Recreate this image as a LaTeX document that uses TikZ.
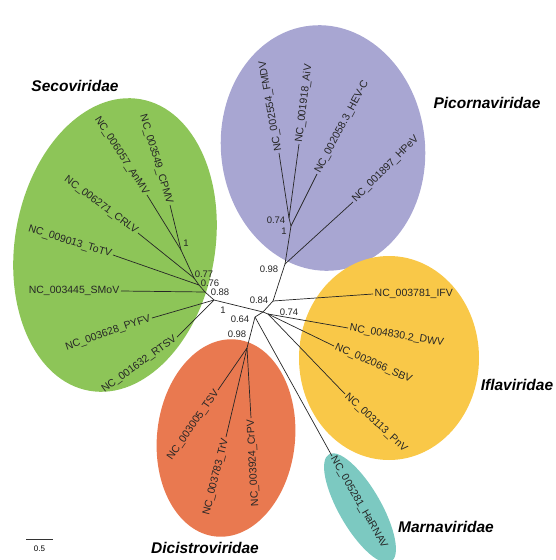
\documentclass[tikz,border=0pt]{standalone}
\usepackage{fontspec}
\setmainfont{Liberation Sans}
\definecolor{picorna}{RGB}{168,166,210}
\definecolor{seco}{RGB}{141,197,88}
\definecolor{ifla}{RGB}{249,200,72}
\definecolor{dicis}{RGB}{233,121,80}
\definecolor{marna}{RGB}{124,201,193}

\begin{document}
\begin{tikzpicture}[x=1pt,y=-1pt,
    branch/.style={line width=0.7pt,black!85},
    tiplabel/.style={font=\fontsize{10.5}{12}\selectfont,text=black!85,inner sep=1.5pt},
    support/.style={font=\fontsize{9.5}{11}\selectfont,text=black!85,inner sep=0pt},
    family/.style={font=\fontsize{15.5}{18}\selectfont\bfseries\itshape}]
  \useasboundingbox (0,0) rectangle (556,560);
  % clade backgrounds
  \fill[seco,rotate around={-10:(115,245)}] (115,245) ellipse [x radius=100,y radius=148];
  \fill[picorna,rotate around={6:(323,148)}] (323,148) ellipse [x radius=102,y radius=123];
  \fill[ifla] (389,358) ellipse [x radius=90,y radius=102];
  \fill[dicis,rotate around={-6:(226,438)}] (226,438) ellipse [x radius=69,y radius=99];
  \fill[marna,rotate around={-60:(360,508)}] (360,508) ellipse [x radius=62,y radius=21];
  % inner nodes
  \coordinate (hub) at (263,312); \coordinate (c84) at (273,301);
  \coordinate (p98) at (285,264); \coordinate (p1) at (291,226);
  \coordinate (p74) at (289,218); \coordinate (i74) at (268,314);
  \coordinate (d64) at (255,317); \coordinate (d98) at (247,348);
  \coordinate (s1) at (214,300); \coordinate (s88) at (205,292);
  \coordinate (s76) at (199,285); \coordinate (s77) at (194,278);
  \coordinate (s1b) at (181,250);
  % tips reading outwards
  \foreach \n/\x/\y/\r/\t in {FMDV/279/153/100/NC\_002554\_FMDV,
      AV/299/144/83/NC\_001918\_AiV, HEVC/317/174/62/NC\_002058.3\_HEV-C,
      HPeV/353/202/45/NC\_001897\_HPeV, IFV/373/294/0/NC\_003781\_IFV,
      DWV/348/328/-9/NC\_004830.2\_DWV, SBV/334/346/-24/NC\_002066\_SBV,
      PnV/345/394/-43/NC\_003113\_PnV, HaRNAV/332/456/-60/NC\_005281\_HaRNAV}{
    \coordinate (t\n) at (\x,\y);
    \node[tiplabel,anchor=west,rotate=\r] (l\n) at (t\n) {\t};}
  % tips reading inwards
  \foreach \n/\x/\y/\r/\t in {SMoV/121/291/0/NC\_003445\_SMoV,
      ToTV/113/255/-17/NC\_009013\_ToTV, CRLV/138/233/-37/NC\_006271\_CRLV,
      AnMV/147/195/-57/NC\_006057\_AnMV, CPMV/170/205/-73/NC\_003549\_CPMV,
      PYFV/152/318/19/NC\_003628\_PYFV, RTSV/177/337/36/NC\_001632\_RTSV,
      TSV/218/390/55/NC\_003005\_TSV, TrV/226/437/76/NC\_003783\_TrV,
      CrPV/251/418/93/NC\_003924\_CrPV}{
    \coordinate (t\n) at (\x,\y);
    \node[tiplabel,anchor=east,rotate=\r] (l\n) at (t\n) {\t};}
  % branches
  \foreach \a/\b in {hub/c84, c84/p98, c84/tIFV, p98/p1, p98/tHPeV, p1/p74,
      p1/tHEVC, p74/tFMDV, p74/tAV, hub/i74, i74/tDWV, i74/tSBV, i74/tPnV,
      hub/d64, d64/d98, d64/tHaRNAV, d98/tTSV, d98/tTrV, d98/tCrPV,
      hub/s1, s1/s88, s88/s76, s76/s77, s77/s1b, s1b/tAnMV, s1b/tCPMV,
      s77/tCRLV, s76/tToTV, s88/tSMoV, s1/tPYFV, s1/tRTSV}
    \draw[branch] (\a) -- (\b);
  % support values
  \node[support] (bp74) at (276,220) {0.74};
  \node[support] (bp1) at (284,231) {1};
  \node[support] (bp98) at (269,269) {0.98};
  \node[support] (bc84) at (259,300) {0.84};
  \node[support] (bi74) at (289,312) {0.74};
  \node[support] (bd64) at (240,319) {0.64};
  \node[support] (bd98) at (237,334) {0.98};
  \node[support] (bs1) at (223,310) {1};
  \node[support] (bs88) at (220,292) {0.88};
  \node[support] (bs76) at (210,283) {0.76};
  \node[support] (bs77) at (204,274) {0.77};
  \node[support] (bs1b) at (186,243) {1};
  % families
  \node[family] (fseco) at (75,86) {Secoviridae};
  \node[family] (fpicorna) at (487,103) {Picornaviridae};
  \node[family] (fifla) at (517,385) {Iflaviridae};
  \node[family] (fmarna) at (446,527) {Marnaviridae};
  \node[family] (fdicis) at (205,548) {Dicistroviridae};
  % scale bar
  \coordinate (sbl) at (26,539); \coordinate (sbr) at (53,539);
  \draw[line width=0.6pt,black!80] (sbl) -- (sbr);
  \node[font=\fontsize{8}{9}\selectfont,inner sep=0pt] (sbtext) at (39.5,549) {0.5};
\end{tikzpicture}
\end{document}
